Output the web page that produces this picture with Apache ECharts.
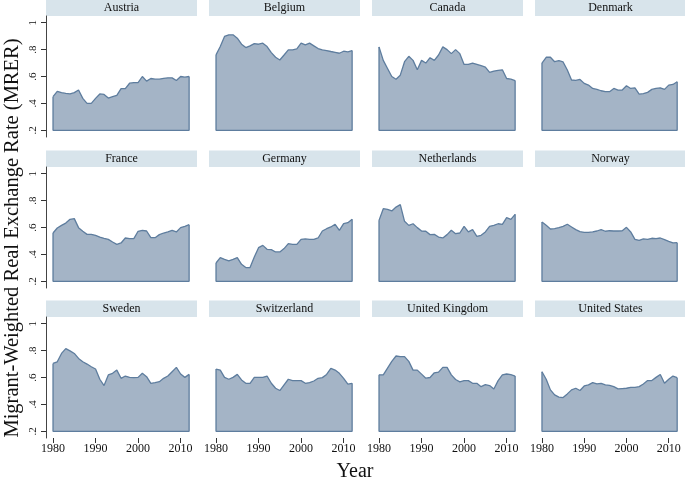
<!DOCTYPE html>
<html><head><meta charset="utf-8">
<script src="https://cdn.jsdelivr.net/npm/echarts@6/dist/echarts.min.js"></script>
<style>html,body{margin:0;padding:0;background:#fff}#c{width:685px;height:480px}</style>
</head><body><div id="c"></div>
<script>
const years = [1980,1981,1982,1983,1984,1985,1986,1987,1988,1989,1990,1991,1992,1993,1994,1995,1996,1997,1998,1999,2000,2001,2002,2003,2004,2005,2006,2007,2008,2009,2010,2011,2012];
const countries = ["Austria","Belgium","Canada","Denmark","France","Germany","Netherlands","Norway","Sweden","Switzerland","United Kingdom","United States"];

const austria = [0.45,0.49,0.48,0.474,0.47,0.48,0.50,0.437,0.40,0.40,0.437,0.47,0.467,0.44,0.45,0.46,0.51,0.51,0.55,0.554,0.554,0.60,0.566,0.585,0.58,0.58,0.586,0.59,0.59,0.57,0.60,0.595,0.60];
const belgium = [0.761,0.823,0.898,0.91,0.91,0.885,0.84,0.815,0.828,0.845,0.84,0.848,0.823,0.778,0.743,0.723,0.76,0.798,0.798,0.805,0.848,0.835,0.848,0.828,0.808,0.798,0.793,0.786,0.78,0.773,0.788,0.783,0.793];
const canada = [0.82,0.72,0.66,0.60,0.58,0.61,0.71,0.75,0.72,0.65,0.72,0.70,0.74,0.72,0.76,0.82,0.80,0.77,0.80,0.77,0.69,0.69,0.70,0.69,0.68,0.67,0.63,0.64,0.645,0.65,0.585,0.58,0.57];
const denmark = [0.70,0.743,0.743,0.71,0.718,0.708,0.648,0.574,0.571,0.578,0.549,0.536,0.511,0.504,0.494,0.487,0.487,0.511,0.499,0.499,0.531,0.511,0.516,0.469,0.472,0.482,0.504,0.511,0.516,0.504,0.536,0.541,0.561];
const france = [0.559,0.596,0.616,0.633,0.661,0.666,0.599,0.572,0.549,0.549,0.542,0.529,0.52,0.512,0.492,0.475,0.485,0.522,0.517,0.517,0.572,0.579,0.574,0.524,0.524,0.547,0.559,0.567,0.579,0.567,0.599,0.609,0.621];
const germany = [0.336,0.376,0.363,0.351,0.363,0.376,0.326,0.302,0.302,0.381,0.45,0.467,0.438,0.435,0.418,0.418,0.443,0.48,0.475,0.475,0.512,0.515,0.512,0.512,0.522,0.574,0.591,0.604,0.624,0.579,0.629,0.636,0.661];
const netherlands = [0.653,0.74,0.735,0.723,0.752,0.77,0.646,0.616,0.628,0.599,0.574,0.572,0.547,0.549,0.529,0.522,0.547,0.579,0.554,0.559,0.609,0.567,0.584,0.534,0.542,0.567,0.609,0.616,0.628,0.624,0.673,0.661,0.698];
const norway = [0.641,0.616,0.589,0.591,0.599,0.609,0.624,0.604,0.584,0.569,0.564,0.564,0.567,0.574,0.584,0.572,0.576,0.574,0.574,0.576,0.601,0.567,0.512,0.505,0.515,0.512,0.52,0.517,0.522,0.51,0.497,0.485,0.487];
const sweden = [0.705,0.717,0.779,0.815,0.798,0.779,0.742,0.717,0.70,0.68,0.663,0.587,0.54,0.619,0.631,0.655,0.594,0.611,0.601,0.599,0.601,0.631,0.606,0.557,0.562,0.569,0.594,0.611,0.643,0.675,0.626,0.601,0.623];
const switzerland = [0.663,0.655,0.601,0.587,0.601,0.623,0.582,0.557,0.557,0.601,0.601,0.601,0.611,0.557,0.52,0.503,0.545,0.587,0.577,0.577,0.577,0.557,0.562,0.574,0.594,0.599,0.623,0.668,0.655,0.631,0.594,0.55,0.557];
const unitedKingdom = [0.62,0.62,0.67,0.72,0.76,0.755,0.755,0.72,0.655,0.655,0.625,0.595,0.60,0.635,0.64,0.675,0.675,0.62,0.585,0.567,0.577,0.577,0.557,0.557,0.532,0.547,0.54,0.515,0.577,0.619,0.626,0.621,0.611];
const unitedStates = [0.643,0.587,0.508,0.471,0.454,0.451,0.478,0.508,0.52,0.503,0.537,0.545,0.562,0.552,0.557,0.545,0.542,0.532,0.515,0.518,0.52,0.527,0.527,0.532,0.552,0.577,0.577,0.601,0.623,0.557,0.587,0.611,0.599];
const seriesValues = [austria,belgium,canada,denmark,france,germany,netherlands,norway,sweden,switzerland,unitedKingdom,unitedStates];

const yTicks = [0.2,0.4,0.6,0.8,1];
const yTickLabels = ['.2','.4','.6','.8','1'];
const xTicks = [1980,1990,2000,2010];
const xTickLabels = ['1980','1990','2000','2010'];
const yBase = 0.2;

const colLeft = [46,209,372,535];
const rowTop = [16,167,317];
const W = 151, H = 121, stripH = 16.5;
const serif = '"Liberation Serif", "DejaVu Serif", serif';
const fillColor = '#a4b4c6';
const lineColor = '#5e7d9e';
const stripColor = '#d8e4eb';

const grids = [], xAxes = [], yAxes = [], series = [], graphics = [];
countries.forEach((name, i) => {
  const r = Math.floor(i / 4), c = i % 4;
  grids.push({left: colLeft[c], top: rowTop[r], width: W, height: H});
  xAxes.push({
    type: 'value', gridIndex: i, min: 1978.35, max: 2013.85,
    axisLine: {show: false},
    axisTick: {show: r === 2, customValues: xTicks, length: 5, lineStyle: {color: '#333'}},
    axisLabel: {show: r === 2, customValues: xTicks, margin: 5, fontFamily: serif, fontSize: 12, color: '#111',
      formatter: v => xTickLabels[xTicks.indexOf(Math.round(v))] || String(Math.round(v))},
    splitLine: {show: false}
  });
  yAxes.push({
    type: 'value', gridIndex: i, min: 0.15, max: 1.05,
    axisLine: {show: c === 0, lineStyle: {color: '#444', width: 1}},
    axisTick: {show: c === 0, customValues: yTicks, length: 5, lineStyle: {color: '#333'}},
    axisLabel: {show: c === 0, customValues: yTicks, rotate: 90, margin: 7, fontFamily: serif, fontSize: 11, color: '#111',
      formatter: v => { const k = yTicks.findIndex(t => Math.abs(t - v) < 1e-6); return k >= 0 ? yTickLabels[k] : ''; }},
    splitLine: {show: false}
  });
  const vals = seriesValues[i];
  series.push({
    type: 'line', xAxisIndex: i, yAxisIndex: i,
    data: years.map((y, k) => [y, vals[k]]),
    showSymbol: false, silent: true, z: 2,
    lineStyle: {color: lineColor, width: 1.3},
    areaStyle: {color: fillColor, opacity: 1, origin: yBase}
  });
  const n = years.length - 1;
  series.push({
    type: 'line', xAxisIndex: i, yAxisIndex: i,
    data: [[years[0], vals[0]], [years[0], yBase], [years[n], yBase], [years[n], vals[n]]],
    showSymbol: false, silent: true, z: 3,
    lineStyle: {color: lineColor, width: 1.3}
  });
  graphics.push({type: 'rect', shape: {x: colLeft[c], y: rowTop[r] - stripH, width: W, height: stripH}, style: {fill: stripColor}, silent: true});
  graphics.push({type: 'text', x: colLeft[c] + W / 2, y: rowTop[r] - stripH / 2,
    style: {text: name, textAlign: 'center', textVerticalAlign: 'middle', align: 'center', verticalAlign: 'middle', font: '12px ' + serif, fill: '#111'}, silent: true});
});
graphics.push({type: 'text', x: 13, y: 238, rotation: Math.PI / 2,
  style: {text: 'Migrant-Weighted Real Exchange Rate (MRER)', textAlign: 'center', textVerticalAlign: 'middle', align: 'center', verticalAlign: 'middle', font: '20.5px ' + serif, fill: '#111'}});
graphics.push({type: 'text', x: 355, y: 472,
  style: {text: 'Year', textAlign: 'center', textVerticalAlign: 'middle', align: 'center', verticalAlign: 'middle', font: '20px ' + serif, fill: '#111'}});

const chart = echarts.init(document.getElementById('c'), null, {renderer: 'canvas'});
chart.setOption({
  animation: false,
  backgroundColor: '#fff',
  grid: grids, xAxis: xAxes, yAxis: yAxes, series: series, graphic: graphics
});
</script></body></html>
